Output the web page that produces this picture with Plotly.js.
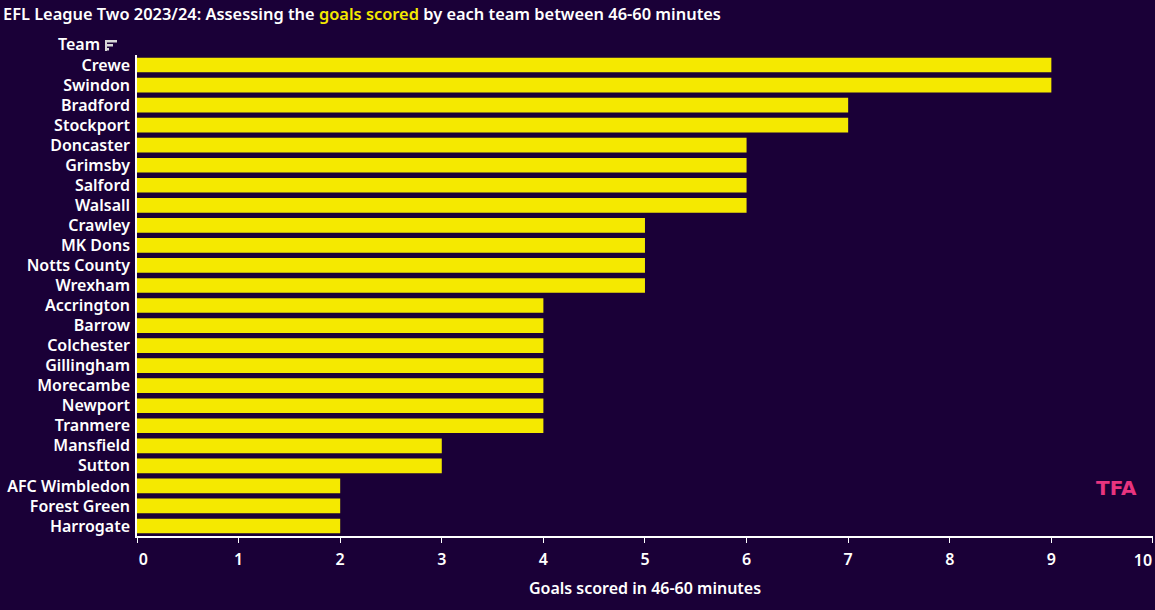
<!DOCTYPE html>
<html><head><meta charset="utf-8">
<script src="https://cdn.plot.ly/plotly-3.0.1.min.js"></script>
<style>html,body{margin:0;padding:0;background:#1a0037;}</style>
</head><body>
<div id="chart" style="width:1155px;height:610px;"></div>
<script>
const teams = ["Crewe","Swindon","Bradford","Stockport","Doncaster","Grimsby","Salford","Walsall","Crawley","MK Dons","Notts County","Wrexham","Accrington","Barrow","Colchester","Gillingham","Morecambe","Newport","Tranmere","Mansfield","Sutton","AFC Wimbledon","Forest Green","Harrogate"];
const goals = [9,9,7,7,6,6,6,6,5,5,5,5,4,4,4,4,4,4,4,3,3,2,2,2];
const tickVals = [0,1,2,3,4,5,6,7,8,9,10];
const tickLabels = ["\u00a0\u00a0\u00a00","1","2","3","4","5","6","7","8","9",""];
const endTickVals = [10];
const endTickLabels = ["10"];

const W = 1155, H = 610;
const mL = 137, mR = 2, mT = 55, mB = 74;
const pw = W - mL - mR, ph = H - mT - mB;
const px = x => (x - mL) / pw;
const py = y => (H - mB - y) / ph;

const font = "Noto Sans, Open Sans, sans-serif";
const white = "#ffffff";

const shapes = [
  [105,40,117,42.5],[105,44,113,46.5],[105,48,109,50.5],[105,40,107,51]
].map(r => ({type:'rect', xref:'paper', yref:'paper', x0:px(r[0]), x1:px(r[2]), y0:py(r[3]), y1:py(r[1]), fillcolor:'#d8d8d8', line:{width:0}}));

const tickFont = {family:font, size:16, color:white, weight:600};

Plotly.newPlot('chart', [{
  type:'bar', orientation:'h', x: goals, y: teams,
  marker:{color:'#f5e900', line:{width:0}},
  hoverinfo:'x+y'
},{
  type:'scatter', mode:'markers', x:[10], y:[teams[0]], xaxis:'x2', yaxis:'y',
  marker:{opacity:0, size:1}, hoverinfo:'skip', showlegend:false
}], {
  width: W, height: H,
  paper_bgcolor:'#1a0037', plot_bgcolor:'#1a0037',
  margin:{l:mL, r:mR, t:mT, b:mB, pad:0},
  bargap: 0.27,
  showlegend:false,
  font:{family:font, color:white},
  title:{
    text:'EFL League Two 2023/24: Assessing the <span style="color:#f5e900">goals scored</span> by each team between 46-60 minutes',
    x: 3/W, xanchor:'left', xref:'container', y: 1 - 14/H, yanchor:'middle', yref:'container',
    font:{family:font, size:16.4, color:white, weight:600}
  },
  xaxis:{
    range:[0,10.0005], tickvals: tickVals, ticktext: tickLabels,
    showgrid:false, zeroline:false, showline:true, linecolor:white, linewidth:1.5,
    ticks:'outside', ticklen:5, tickcolor:white, tickwidth:1,
    ticklabelstandoff:3,
    tickfont:tickFont,
    title:{text:'Goals scored in 46-60 minutes', standoff:14, font:{family:font, size:16, color:white, weight:600}},
    fixedrange:true
  },
  xaxis2:{
    overlaying:'x', matches:'x', anchor:'y', side:'bottom',
    range:[0,10.0005], tickvals: endTickVals, ticktext: endTickLabels,
    showgrid:false, zeroline:false, showline:false, ticks:'',
    ticklabelstandoff:13, ticklabelshift:-10,
    tickfont:tickFont, fixedrange:true
  },
  yaxis:{
    type:'category', autorange:false, range:[teams.length - 0.5, -0.5],
    showgrid:false, zeroline:false, showline:true, linecolor:white, linewidth:1.5,
    ticks:'', ticklabelstandoff:2,
    tickfont:tickFont,
    fixedrange:true
  },
  shapes: shapes,
  annotations:[
    {text:'Team', xref:'paper', yref:'paper', x:px(102), y:py(44), xanchor:'right', yanchor:'middle', showarrow:false, font:{family:font, size:16, color:white, weight:600}},
    {text:'<b>TFA</b>', xref:'paper', yref:'paper', x:px(1116), y:py(488), xanchor:'center', yanchor:'middle', showarrow:false, font:{family:'DejaVu Sans, sans-serif', size:20, color:'#e8347f'}}
  ]
}, {displayModeBar:false, staticPlot:false});
</script>
</body></html>
